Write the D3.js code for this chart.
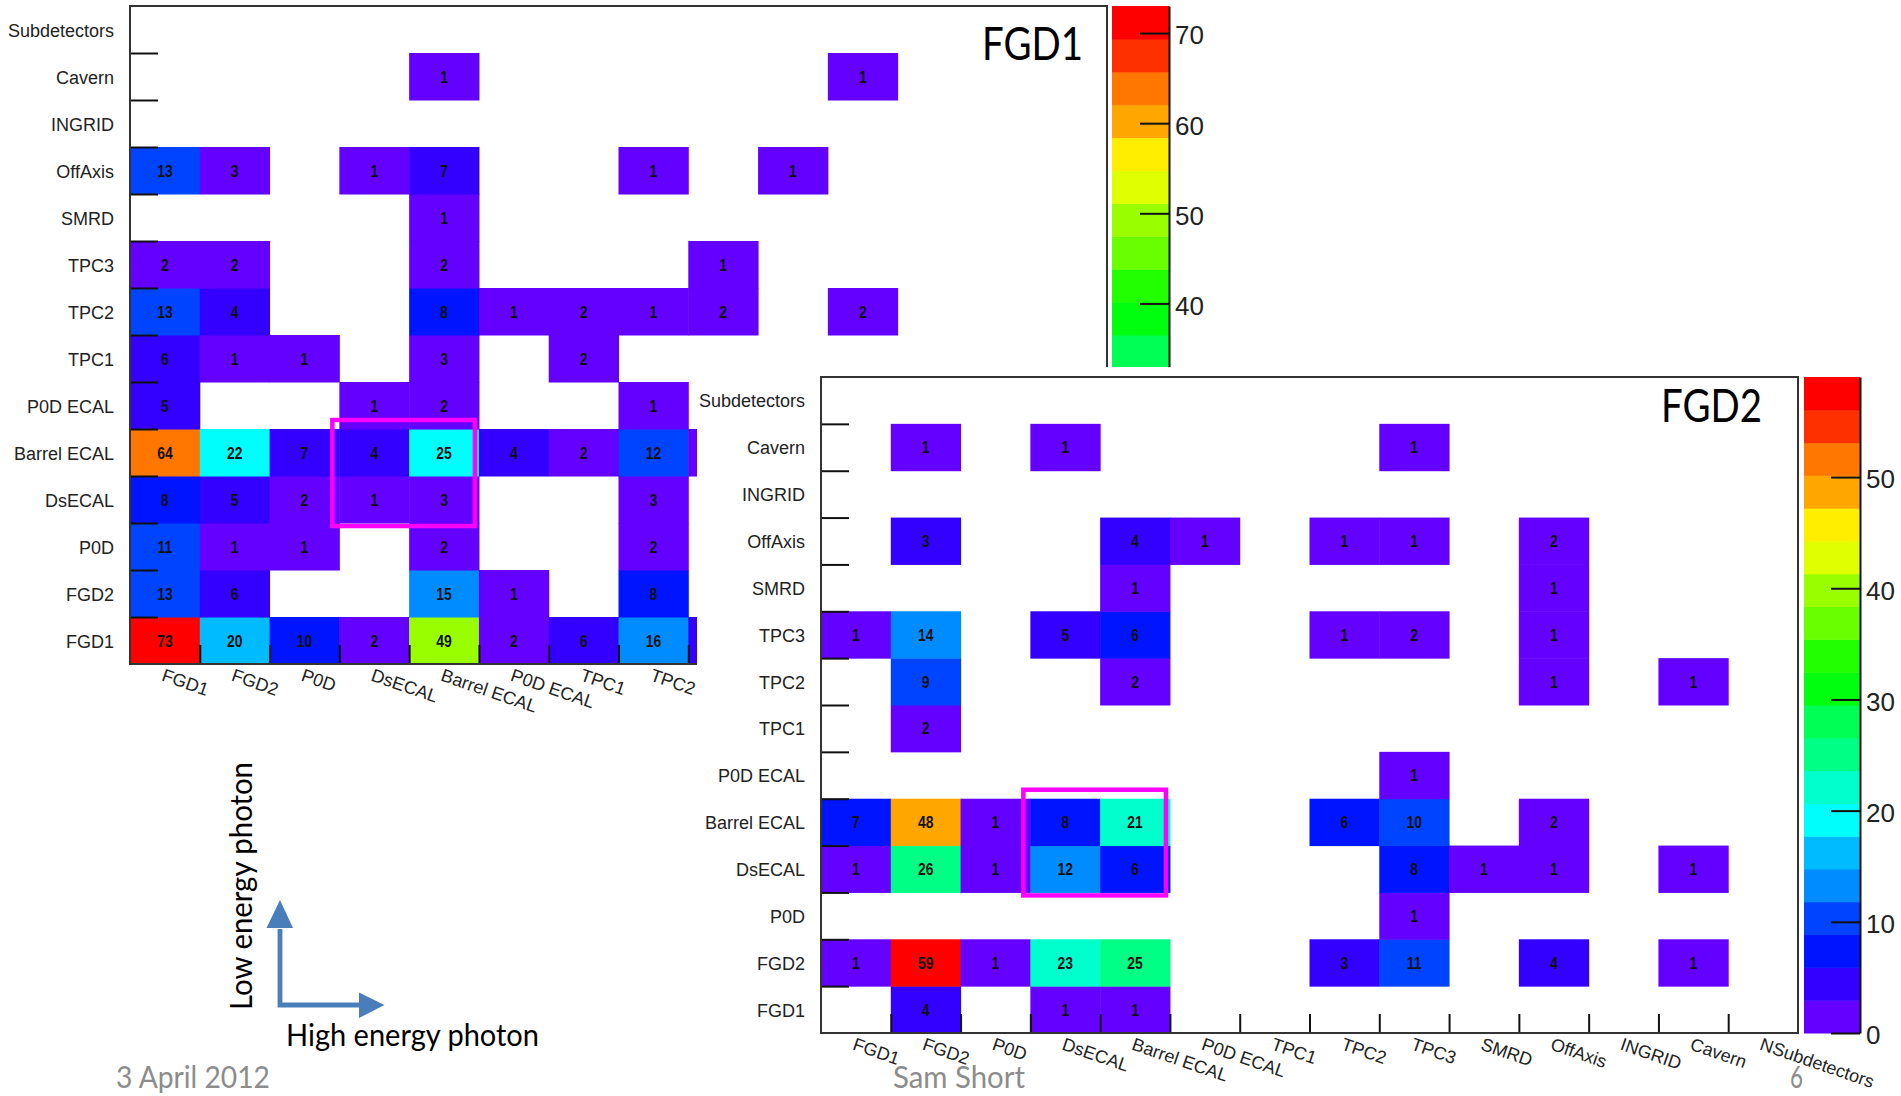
<!DOCTYPE html>
<html>
<head>
<meta charset="utf-8">
<script src="https://cdn.jsdelivr.net/npm/d3@7"></script>
<style>
  body { margin: 0; background: #fff; }
  svg { display: block; }
</style>
</head>
<body>
<svg id="slide" width="1901" height="1096"></svg>
<script>
// categories of the two axes (y rows listed bottom -> top)
const xCats = ["FGD1", "FGD2", "P0D", "DsECAL", "Barrel ECAL", "P0D ECAL", "TPC1",
               "TPC2", "TPC3", "SMRD", "OffAxis", "INGRID", "Cavern", "NSubdetectors"];
const yCats = ["FGD1", "FGD2", "P0D", "DsECAL", "Barrel ECAL", "P0D ECAL", "TPC1",
               "TPC2", "TPC3", "SMRD", "OffAxis", "INGRID", "Cavern", "Subdetectors"];

// counts: one row per y category (bottom -> top), one entry per x category
const fgd1Counts = [
  [73, 20, 10, 2, 49, 2, 6, 16, 5, 0, 0, 0, 0, 0],   // FGD1
  [13, 6, 0, 0, 15, 1, 0, 8, 0, 0, 0, 0, 0, 0],      // FGD2
  [11, 1, 1, 0, 2, 0, 0, 2, 0, 0, 0, 0, 0, 0],       // P0D
  [8, 5, 2, 1, 3, 0, 0, 3, 0, 0, 0, 0, 0, 0],        // DsECAL
  [64, 22, 7, 4, 25, 4, 2, 12, 2, 0, 0, 0, 0, 0],    // Barrel ECAL
  [5, 0, 0, 1, 2, 0, 0, 1, 0, 0, 0, 0, 0, 0],        // P0D ECAL
  [6, 1, 1, 0, 3, 0, 2, 0, 0, 0, 0, 0, 0, 0],        // TPC1
  [13, 4, 0, 0, 8, 1, 2, 1, 2, 0, 2, 0, 0, 0],       // TPC2
  [2, 2, 0, 0, 2, 0, 0, 0, 1, 0, 0, 0, 0, 0],        // TPC3
  [0, 0, 0, 0, 1, 0, 0, 0, 0, 0, 0, 0, 0, 0],        // SMRD
  [13, 3, 0, 1, 7, 0, 0, 1, 0, 1, 0, 0, 0, 0],       // OffAxis
  [0, 0, 0, 0, 0, 0, 0, 0, 0, 0, 0, 0, 0, 0],        // INGRID
  [0, 0, 0, 0, 1, 0, 0, 0, 0, 0, 1, 0, 0, 0],        // Cavern
  [0, 0, 0, 0, 0, 0, 0, 0, 0, 0, 0, 0, 0, 0]         // Subdetectors
];

const fgd2Counts = [
  [0, 4, 0, 1, 1, 0, 0, 0, 0, 0, 0, 0, 0, 0],        // FGD1
  [1, 59, 1, 23, 25, 0, 0, 3, 11, 0, 4, 0, 1, 0],    // FGD2
  [0, 0, 0, 0, 0, 0, 0, 0, 1, 0, 0, 0, 0, 0],        // P0D
  [1, 26, 1, 12, 6, 0, 0, 0, 8, 1, 1, 0, 1, 0],      // DsECAL
  [7, 48, 1, 8, 21, 0, 0, 6, 10, 0, 2, 0, 0, 0],     // Barrel ECAL
  [0, 0, 0, 0, 0, 0, 0, 0, 1, 0, 0, 0, 0, 0],        // P0D ECAL
  [0, 2, 0, 0, 0, 0, 0, 0, 0, 0, 0, 0, 0, 0],        // TPC1
  [0, 9, 0, 0, 2, 0, 0, 0, 0, 0, 1, 0, 1, 0],        // TPC2
  [1, 14, 0, 5, 6, 0, 0, 1, 2, 0, 1, 0, 0, 0],       // TPC3
  [0, 0, 0, 0, 1, 0, 0, 0, 0, 0, 1, 0, 0, 0],        // SMRD
  [0, 3, 0, 0, 4, 1, 0, 1, 1, 0, 2, 0, 0, 0],        // OffAxis
  [0, 0, 0, 0, 0, 0, 0, 0, 0, 0, 0, 0, 0, 0],        // INGRID
  [0, 1, 0, 1, 0, 0, 0, 0, 1, 0, 0, 0, 0, 0],        // Cavern
  [0, 0, 0, 0, 0, 0, 0, 0, 0, 0, 0, 0, 0, 0]         // Subdetectors
];

// highlighted 2x2 block on both panels
const boxCats = ["DsECAL", "Barrel ECAL"];

const ROOT_FONT = "'Liberation Sans', Arial, Helvetica, sans-serif";
const SLIDE_FONT = "Lato, 'Open Sans', sans-serif";

const svg = d3.select("#slide");
svg.append("rect").attr("width", 1901).attr("height", 1096).attr("fill", "#fff");

// ROOT pretty palette (50 hues 280 -> 0) sampled by 20 contour levels
const NCONT = 20, NCOL = 50;
function rootColor(level) {
  let k = Math.floor((level + 0.99) * NCOL / NCONT);
  if (k > NCOL - 1) k = NCOL - 1;
  return d3.hsl(280 - (k + 1) * 280 / NCOL, 1, 0.5).formatHex();
}
const levelOf = (v, zmax) => Math.floor(0.01 + v * NCONT / zmax);

function drawPanel(p) {
  const g = svg.append("g");
  const zmax = d3.max(p.counts.flat());

  const x = d3.scaleBand().domain(xCats).range([p.x0, p.x1]);
  const y = d3.scaleBand().domain(yCats).range([p.y1, p.y0]);
  const bw = x.bandwidth(), bh = y.bandwidth();

  const cells = [];
  p.counts.forEach((row, yi) => row.forEach((v, xi) => {
    if (v > 0) cells.push({ xc: xCats[xi], yc: yCats[yi], v });
  }));

  // cells
  g.selectAll("rect.cell").data(cells).join("rect")
    .attr("class", "cell")
    .attr("x", d => x(d.xc))
    .attr("y", d => y(d.yc))
    .attr("width", bw + 0.5)
    .attr("height", bh + 0.5)
    .attr("fill", d => rootColor(levelOf(d.v, zmax)));

  // cell numbers
  g.selectAll("text.num").data(cells).join("text")
    .attr("class", "num")
    .attr("transform", d => `translate(${x(d.xc) + bw / 2},${y(d.yc) + bh / 2 + 6}) scale(0.82,1)`)
    .attr("text-anchor", "middle")
    .attr("font-family", ROOT_FONT)
    .attr("font-size", 17)
    .attr("font-weight", "bold")
    .attr("fill", "#111")
    .text(d => d.v);

  // ticks at bin edges
  const xl = d3.scaleLinear().domain([0, xCats.length]).range([p.x0, p.x1]);
  const yl = d3.scaleLinear().domain([0, yCats.length]).range([p.y1, p.y0]);
  const xAxis = g.append("g").attr("transform", `translate(0,${p.y1})`)
    .call(d3.axisBottom(xl).tickValues(d3.range(1, xCats.length))
      .tickSize(-19).tickSizeOuter(0).tickFormat(""));
  const yAxis = g.append("g").attr("transform", `translate(${p.x0},0)`)
    .call(d3.axisLeft(yl).tickValues(d3.range(1, yCats.length))
      .tickSize(-28).tickSizeOuter(0).tickFormat(""));
  [xAxis, yAxis].forEach(a => {
    a.select(".domain").remove();
    a.selectAll(".tick line").attr("stroke", "#111").attr("stroke-width", 2);
  });

  // frame
  g.append("rect")
    .attr("x", p.x0).attr("y", p.y0)
    .attr("width", p.x1 - p.x0).attr("height", p.y1 - p.y0)
    .attr("fill", "none").attr("stroke", "#333").attr("stroke-width", 2);

  // y labels
  g.selectAll("text.ylab").data(yCats).join("text")
    .attr("class", "ylab")
    .attr("x", p.x0 - 16)
    .attr("y", d => y(d) + bh / 2 + 7)
    .attr("text-anchor", "end")
    .attr("font-family", ROOT_FONT)
    .attr("font-size", 18)
    .attr("fill", "#222")
    .text(d => d);

  // x labels, slanted down
  g.selectAll("text.xlab").data(xCats).join("text")
    .attr("class", "xlab")
    .attr("transform", d => `translate(${x(d) + bw / 2},${p.y1 + 4}) rotate(19)`)
    .attr("y", 13)
    .attr("font-family", ROOT_FONT)
    .attr("font-size", 18)
    .attr("fill", "#222")
    .text(d => d);

  // colour palette
  const zl = d3.scaleLinear().domain([0, zmax]).range([p.y1, p.y0]);
  g.selectAll("rect.pal").data(d3.range(NCONT)).join("rect")
    .attr("class", "pal")
    .attr("x", p.px0)
    .attr("y", j => zl((j + 1) * zmax / NCONT))
    .attr("width", p.px1 - p.px0)
    .attr("height", j => zl(j * zmax / NCONT) - zl((j + 1) * zmax / NCONT) + 0.5)
    .attr("fill", j => rootColor(j));
  const zAxis = g.append("g").attr("transform", `translate(${p.px1},0)`)
    .call(d3.axisRight(zl).tickValues(d3.range(0, zmax, 10))
      .tickSize(-29).tickSizeOuter(0).tickPadding(6));
  zAxis.select(".domain").attr("stroke", "#111").attr("stroke-width", 2);
  zAxis.selectAll(".tick line").attr("stroke", "#111").attr("stroke-width", 2);
  zAxis.selectAll(".tick text")
    .attr("font-family", ROOT_FONT).attr("font-size", 26).attr("fill", "#222")
    .attr("dy", "0.42em");

  // title
  g.append("text")
    .attr("x", p.titleX).attr("y", p.titleY)
    .attr("font-family", SLIDE_FONT).attr("font-size", 46).attr("fill", "#000")
    .attr("textLength", 101).attr("lengthAdjust", "spacingAndGlyphs")
    .text(p.title);

  // highlight box around the DsECAL / Barrel ECAL block
  const bx0 = d3.min(boxCats, c => x(c)), bx1 = d3.max(boxCats, c => x(c) + bw);
  const by0 = d3.min(boxCats, c => y(c)), by1 = d3.max(boxCats, c => y(c) + bh);
  g.append("rect")
    .attr("x", bx0 - 7).attr("y", by0 - 9)
    .attr("width", bx1 - bx0 + 3).attr("height", by1 - by0 + 12)
    .attr("fill", "none").attr("stroke", "#ff00ff").attr("stroke-width", 4.5);
}

drawPanel({
  counts: fgd1Counts, title: "FGD1",
  x0: 130, x1: 1107, y0: 6, y1: 664, px0: 1112, px1: 1169,
  titleX: 982, titleY: 60
});

// the FGD2 picture is pasted over the lower right of the FGD1 one
svg.append("rect").attr("x", 697).attr("y", 367)
  .attr("width", 1901 - 697).attr("height", 1096 - 367).attr("fill", "#fff");

drawPanel({
  counts: fgd2Counts, title: "FGD2",
  x0: 821, x1: 1798, y0: 377, y1: 1033, px0: 1804, px1: 1860,
  titleX: 1661, titleY: 422
});

// photon energy arrows
const arrowBlue = "#4a7ebb";
const ann = svg.append("g");
ann.append("path")
  .attr("d", d3.line()([[280, 929], [280, 1005], [361, 1005]]))
  .attr("fill", "none").attr("stroke", arrowBlue).attr("stroke-width", 4.8);
ann.append("path").attr("d", "M266.5,928L280,900L293,928Z").attr("fill", arrowBlue);
ann.append("path").attr("d", "M359,992.5L384.5,1005L359,1018Z").attr("fill", arrowBlue);

ann.append("text")
  .attr("transform", "translate(252,1010) rotate(-90)")
  .attr("font-family", SLIDE_FONT).attr("font-size", 31.5).attr("fill", "#000")
  .attr("textLength", 248).attr("lengthAdjust", "spacingAndGlyphs")
  .text("Low energy photon");
ann.append("text")
  .attr("x", 286).attr("y", 1046)
  .attr("font-family", SLIDE_FONT).attr("font-size", 31.5).attr("fill", "#000")
  .attr("textLength", 253).attr("lengthAdjust", "spacingAndGlyphs")
  .text("High energy photon");

// slide footer
const footer = [
  { text: "3 April 2012", x: 116, w: 154 },
  { text: "Sam Short", x: 893, w: 132 },
  { text: "6", x: 1790, w: 13 }
];
svg.selectAll("text.foot").data(footer).join("text")
  .attr("class", "foot")
  .attr("x", d => d.x).attr("y", 1088)
  .attr("font-family", SLIDE_FONT).attr("font-size", 30).attr("fill", "#8c8c8c")
  .attr("textLength", d => d.w).attr("lengthAdjust", "spacingAndGlyphs")
  .text(d => d.text);
</script>
</body>
</html>
